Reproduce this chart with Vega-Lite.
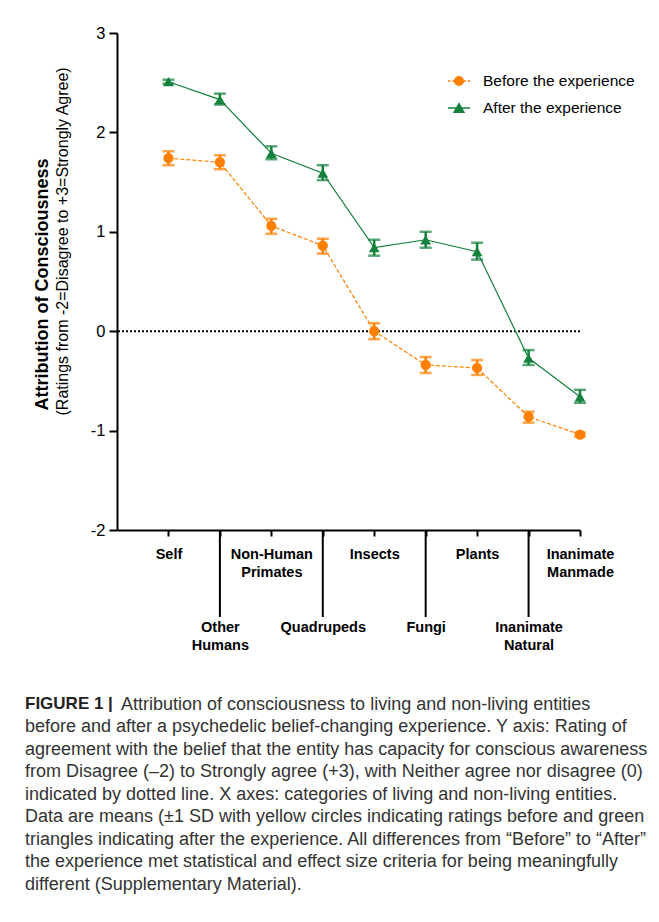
{
  "$schema": "https://vega.github.io/schema/vega-lite/v6.json",
  "width": 463,
  "height": 497,
  "autosize": "none",
  "padding": {"left": 117, "top": 33, "right": 79, "bottom": 392},
  "background": "white",
  "datasets": {
    "d": [
      {"entity": "Self", "series": "Before the experience", "mean": 1.74, "lo": 1.67, "hi": 1.81},
      {"entity": "Other Humans", "series": "Before the experience", "mean": 1.70, "lo": 1.63, "hi": 1.77},
      {"entity": "Non-Human Primates", "series": "Before the experience", "mean": 1.06, "lo": 0.98, "hi": 1.13},
      {"entity": "Quadrupeds", "series": "Before the experience", "mean": 0.86, "lo": 0.78, "hi": 0.93},
      {"entity": "Insects", "series": "Before the experience", "mean": 0.00, "lo": -0.08, "hi": 0.08},
      {"entity": "Fungi", "series": "Before the experience", "mean": -0.34, "lo": -0.42, "hi": -0.26},
      {"entity": "Plants", "series": "Before the experience", "mean": -0.37, "lo": -0.44, "hi": -0.29},
      {"entity": "Inanimate Natural", "series": "Before the experience", "mean": -0.86, "lo": -0.92, "hi": -0.81},
      {"entity": "Inanimate Manmade", "series": "Before the experience", "mean": -1.04, "lo": -1.06, "hi": -1.02},
      {"entity": "Self", "series": "After the experience", "mean": 2.51, "lo": 2.49, "hi": 2.53},
      {"entity": "Other Humans", "series": "After the experience", "mean": 2.33, "lo": 2.28, "hi": 2.39},
      {"entity": "Non-Human Primates", "series": "After the experience", "mean": 1.79, "lo": 1.73, "hi": 1.86},
      {"entity": "Quadrupeds", "series": "After the experience", "mean": 1.59, "lo": 1.52, "hi": 1.67},
      {"entity": "Insects", "series": "After the experience", "mean": 0.84, "lo": 0.76, "hi": 0.92},
      {"entity": "Fungi", "series": "After the experience", "mean": 0.92, "lo": 0.84, "hi": 1.00},
      {"entity": "Plants", "series": "After the experience", "mean": 0.80, "lo": 0.72, "hi": 0.89},
      {"entity": "Inanimate Natural", "series": "After the experience", "mean": -0.27, "lo": -0.34, "hi": -0.19},
      {"entity": "Inanimate Manmade", "series": "After the experience", "mean": -0.66, "lo": -0.72, "hi": -0.59}
    ]
  },
  "data": {"name": "d"},
  "title": {
    "text": "FIGURE 1 |",
    "subtitle": [
      "\u2800\u2800\u2800\u2800\u2800\u2800\u2800 Attribution of consciousness to living and non-living entities",
      "before and after a psychedelic belief-changing experience. Y axis: Rating of",
      "agreement with the belief that the entity has capacity for conscious awareness",
      "from Disagree (–2) to Strongly agree (+3), with Neither agree nor disagree (0)",
      "indicated by dotted line. X axes: categories of living and non-living entities.",
      "Data are means (±1 SD with yellow circles indicating ratings before and green",
      "triangles indicating after the experience. All differences from “Before” to “After”",
      "the experience met statistical and effect size criteria for being meaningfully",
      "different (Supplementary Material)."
    ],
    "orient": "bottom",
    "anchor": "start",
    "frame": "group",
    "dx": -92,
    "offset": 43.5,
    "font": "Liberation Sans",
    "fontSize": 17,
    "fontWeight": "bold",
    "color": "#222222",
    "subtitleFont": "Liberation Sans",
    "subtitleFontSize": 18,
    "subtitleFontWeight": "normal",
    "subtitleColor": "#333333",
    "subtitleLineHeight": 22.5,
    "subtitlePadding": -17
  },
  "config": {
    "view": {"stroke": null},
    "axis": {
      "grid": false,
      "domainColor": "black",
      "domainWidth": 2,
      "tickColor": "black",
      "tickWidth": 2,
      "labelColor": "black",
      "labelFont": "Liberation Sans",
      "titleFont": "Liberation Sans",
      "titleColor": "black"
    },
    "legend": {
      "orient": "none",
      "legendX": 330,
      "legendY": 36,
      "padding": 0,
      "labelFont": "Liberation Sans",
      "labelFontSize": 15.5,
      "labelColor": "black",
      "labelOffset": 12,
      "symbolSize": 484,
      "symbolStrokeWidth": 1.3,
      "symbolOpacity": 1,
      "rowPadding": 6
    }
  },
  "layer": [
    {
      "data": {"values": [{}]},
      "mark": {"type": "rule", "strokeDash": [2, 2], "strokeWidth": 2, "color": "black"},
      "encoding": {"y": {"datum": 0, "type": "quantitative", "title": "(Ratings from -2=Disagree to +3=Strongly Agree)"}}
    },
    {
      "transform": [
        {"filter": "datum.series == 'Before the experience' && indexof(['Other Humans','Quadrupeds','Fungi','Inanimate Natural'], datum.entity) >= 0"}
      ],
      "mark": {"type": "rule", "strokeWidth": 2, "color": "black"},
      "encoding": {
        "x": {"field": "entity", "type": "ordinal", "title": "Attribution of Consciousness"},
        "y": {"datum": -2, "type": "quantitative", "title": "(Ratings from -2=Disagree to +3=Strongly Agree)"},
        "y2": {"datum": -2.875}
      }
    },
    {
      "transform": [{"filter": "datum.series == 'Before the experience'"}],
      "mark": {"type": "line", "strokeWidth": 1.2, "color": "#FF8000", "strokeDash": [4, 2]},
      "encoding": {
        "x": {
          "field": "entity",
          "type": "ordinal",
          "scale": {
            "type": "point",
            "padding": 0,
            "domain": [" ", "Self", "Other Humans", "Non-Human Primates", "Quadrupeds", "Insects", "Fungi", "Plants", "Inanimate Natural", "Inanimate Manmade"]
          },
          "axis": {
            "values": ["Self", "Other Humans", "Non-Human Primates", "Quadrupeds", "Insects", "Fungi", "Plants", "Inanimate Natural", "Inanimate Manmade"],
            "labelAngle": 0,
            "labelAlign": "center",
            "labelExpr": "indexof(['Other Humans','Quadrupeds','Fungi','Inanimate Natural'], datum.label) >= 0 ? split('\u2800|\u2800|\u2800|\u2800|' + replace(datum.label, ' ', '|'), '|') : split(datum.label, ' ')",
            "labelFontWeight": "bold",
            "labelFontSize": 14.5,
            "labelLineHeight": 18.3,
            "labelBaseline": "top",
            "labelOverlap": false,
            "tickSize": 6,
            "labelPadding": 11,
            "titleFontWeight": "bold",
            "titleFontSize": 18,
            "titleAngle": 270,
            "titleX": -75,
            "titleY": -120,
            "titleAlign": "left",
            "titleBaseline": "middle"
          },
          "title": "Attribution of Consciousness"
        },
        "y": {
          "field": "mean",
          "type": "quantitative",
          "scale": {"domain": [-2, 3], "nice": false, "zero": false},
          "axis": {
            "values": [-2, -1, 0, 1, 2, 3],
            "labelExpr": "'' + datum.value",
            "labelFontSize": 16.5,
            "tickSize": 8,
            "labelPadding": 4,
            "titleFontWeight": "normal",
            "titleFontSize": 16,
            "titleAngle": 270,
            "titleX": -55,
            "titleY": 382,
            "titleAlign": "left",
            "titleBaseline": "middle"
          },
          "title": "(Ratings from -2=Disagree to +3=Strongly Agree)"
        }
      }
    },
    {
      "transform": [{"filter": "datum.series == 'After the experience'"}],
      "mark": {"type": "line", "strokeWidth": 1.2, "color": "#14823C"},
      "encoding": {
        "x": {"field": "entity", "type": "ordinal", "title": "Attribution of Consciousness"},
        "y": {"field": "mean", "type": "quantitative", "title": "(Ratings from -2=Disagree to +3=Strongly Agree)"}
      }
    },
    {
      "transform": [{"filter": "datum.series == 'Before the experience'"}],
      "mark": {"type": "errorbar", "ticks": {"color": "#FF8000"}, "rule": {"color": "#FF8000"}, "color": "#FF8000", "size": 12, "thickness": 2.5},
      "encoding": {
        "x": {"field": "entity", "type": "ordinal", "title": "Attribution of Consciousness"},
        "y": {"field": "lo", "type": "quantitative", "title": "(Ratings from -2=Disagree to +3=Strongly Agree)"},
        "y2": {"field": "hi"}
      }
    },
    {
      "transform": [{"filter": "datum.series == 'After the experience'"}],
      "mark": {"type": "errorbar", "ticks": {"color": "#14823C"}, "rule": {"color": "#14823C"}, "color": "#14823C", "size": 12, "thickness": 2.5},
      "encoding": {
        "x": {"field": "entity", "type": "ordinal", "title": "Attribution of Consciousness"},
        "y": {"field": "lo", "type": "quantitative", "title": "(Ratings from -2=Disagree to +3=Strongly Agree)"},
        "y2": {"field": "hi"}
      }
    },
    {
      "transform": [{"filter": "datum.series == 'Before the experience'"}],
      "mark": {"type": "point", "shape": "circle", "filled": true, "size": 105, "opacity": 1, "color": "#FF8000"},
      "encoding": {
        "x": {"field": "entity", "type": "ordinal", "title": "Attribution of Consciousness"},
        "y": {"field": "mean", "type": "quantitative", "title": "(Ratings from -2=Disagree to +3=Strongly Agree)"}
      }
    },
    {
      "transform": [{"filter": "datum.series == 'After the experience'"}],
      "mark": {"type": "point", "shape": "triangle-up", "filled": true, "size": 115, "opacity": 1, "color": "#14823C"},
      "encoding": {
        "x": {"field": "entity", "type": "ordinal", "title": "Attribution of Consciousness"},
        "y": {"field": "mean", "type": "quantitative", "title": "(Ratings from -2=Disagree to +3=Strongly Agree)"}
      }
    },
    {
      "transform": [{"filter": "false"}],
      "mark": {"type": "point", "filled": true, "strokeWidth": 1.3, "opacity": 1},
      "encoding": {
        "x": {"field": "entity", "type": "ordinal", "title": "Attribution of Consciousness"},
        "y": {"field": "mean", "type": "quantitative", "title": "(Ratings from -2=Disagree to +3=Strongly Agree)"},
        "shape": {
          "field": "series",
          "type": "nominal",
          "scale": {
            "domain": ["Before the experience", "After the experience"],
            "range": [
              "M-1,0L-0.78,0M-0.62,0L-0.45,0M0.45,0L0.62,0M0.78,0L1,0M-0.4,0A0.4,0.4,0,1,1,0.4,0A0.4,0.4,0,1,1,-0.4,0Z",
              "M-1,0L1,0M0,-0.4L0.46,0.4L-0.46,0.4Z"
            ]
          },
          "legend": {"title": null}
        },
        "fill": {
          "field": "series",
          "type": "nominal",
          "scale": {"domain": ["Before the experience", "After the experience"], "range": ["#FF8000", "#14823C"]},
          "legend": {"title": null}
        },
        "stroke": {
          "field": "series",
          "type": "nominal",
          "scale": {"domain": ["Before the experience", "After the experience"], "range": ["#FF8000", "#14823C"]},
          "legend": {"title": null}
        }
      }
    }
  ]
}
